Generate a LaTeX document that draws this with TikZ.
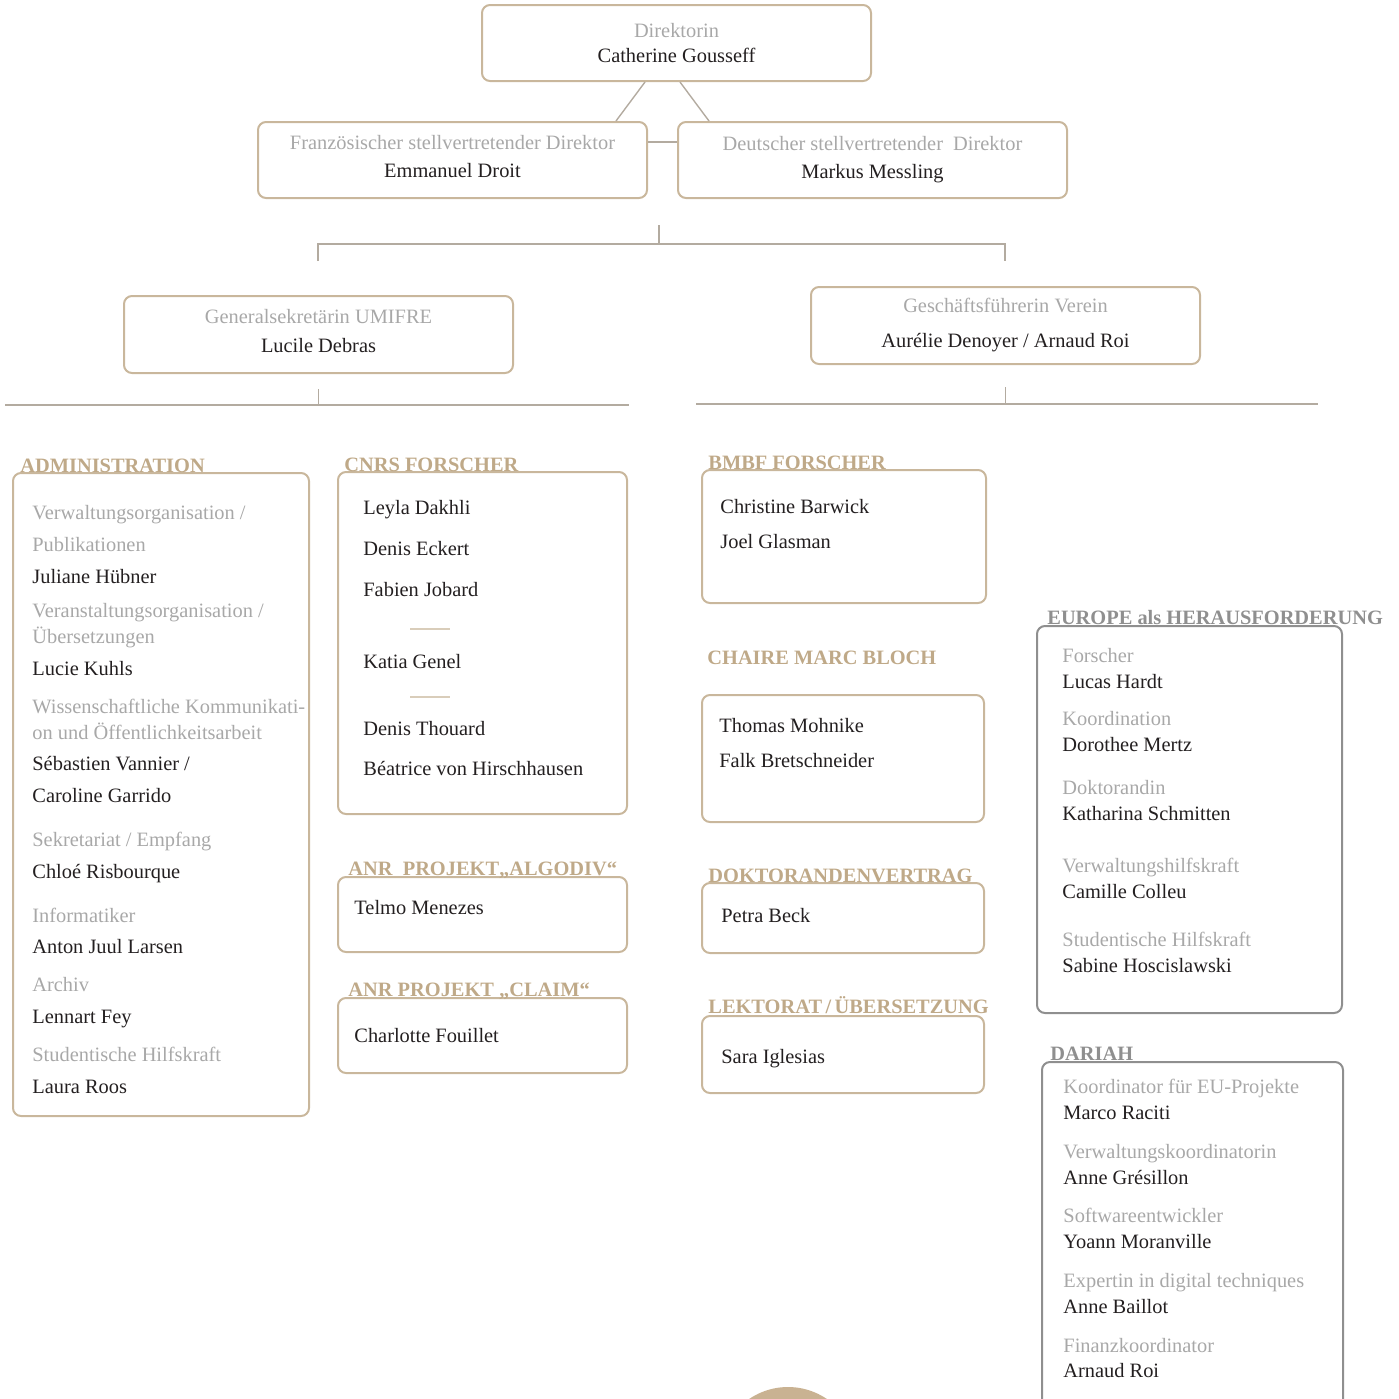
\documentclass[tikz,border=0pt]{standalone}
\usepackage{fontspec}
\setmainfont{Liberation Serif}
\definecolor{sand}{HTML}{C9B79C}
\definecolor{sandtext}{HTML}{BFA988}
\definecolor{rolegrey}{HTML}{A8A8A8}
\definecolor{ink}{HTML}{231F20}
\definecolor{boxgrey}{HTML}{8F8F8F}
\definecolor{linkgrey}{HTML}{B3ABA0}
\definecolor{disc}{HTML}{C9B292}

\tikzset{
  unit/.style={draw=sand, line width=1pt, rounded corners=4pt,
    minimum width=194.5pt, minimum height=38pt, align=center,
    font=\fontsize{10.2}{12.5}\selectfont, text=ink},
  panel/.style={draw=sand, line width=1pt, rounded corners=4pt,
    anchor=north west, inner sep=0pt},
  greypanel/.style={panel, draw=boxgrey},
  title/.style={anchor=base west, inner sep=0pt,
    font=\fontsize{10.2}{12}\selectfont\bfseries, text=sandtext},
  greytitle/.style={title, text=boxgrey},
  role/.style={anchor=base west, inner sep=0pt,
    font=\fontsize{10.2}{12}\selectfont, text=rolegrey},
  person/.style={role, text=ink},
  link/.style={draw=linkgrey, line width=0.7pt},
  rule/.style={draw=sand!70, line width=0.6pt}
}

\begin{document}
\begin{tikzpicture}[x=0.5pt, y=-0.5pt]
  \useasboundingbox (0,0) rectangle (1399,1399);
  \clip (0,0) rectangle (1399,1399);

  % Leitung
  \node[unit] (dir) at (676.5,43)
    {\textcolor{rolegrey}{Direktorin}\\Catherine Gousseff};
  \node[unit] (frdep) at (452.5,160)
    {\textcolor{rolegrey}{Französischer stellvertretender Direktor}\\[1.5pt]Emmanuel Droit\strut};
  \node[unit] (dedep) at (872.5,160)
    {\textcolor{rolegrey}{Deutscher stellvertretender\ \ Direktor}\\[1.5pt]Markus Messling};
  \node[unit, minimum height=38.5pt] (gensec) at (318.5,334.5)
    {\textcolor{rolegrey}{Generalsekretärin UMIFRE}\\[2pt]Lucile Debras\strut};
  \node[unit, minimum height=38.5pt] (verein) at (1005.5,325.5)
    {\textcolor{rolegrey}{Geschäftsführerin Verein}\\[5pt]Aurélie Denoyer / Arnaud Roi};

  % Verbindungen
  \draw[link] ([xshift=-15.75pt]dir.south) -- ([xshift=81.75pt]frdep.north);
  \draw[link] ([xshift=1.75pt]dir.south) -- ([xshift=-81.75pt]dedep.north);
  \draw[link] ([yshift=9pt]frdep.east) -- ([yshift=9pt]dedep.west);

  \coordinate (busstem) at (659,225);
  \coordinate (bus) at (659,244);
  \coordinate (busL) at (318,261);
  \coordinate (busR) at (1005,261);
  \draw[link] (busstem) -- (bus);
  \draw[link] (busL) |- (bus) -| (busR);

  \coordinate (umifre) at (318.5,405);
  \coordinate (umifreW) at (5,405);
  \coordinate (umifreE) at (629,405);
  \draw[link] ([yshift=-7.5pt]gensec.south) -- (umifre);
  \draw[link] (umifreW) -- (umifreE);

  \coordinate (vereinbar) at (1005.5,404);
  \coordinate (vereinW) at (696,404);
  \coordinate (vereinE) at (1318,404);
  \draw[link] ([yshift=-11pt]verein.south) -- (vereinbar);
  \draw[link] (vereinW) -- (vereinE);

  % Administration
  \node[panel, minimum width=148pt, minimum height=321.5pt] (admin) at (12,472) {};
  \node[title] (admintitle) at (20,472) {ADMINISTRATION};
  \foreach \kind/\y/\txt [count=\i] in {
      role/519/{Verwaltungsorganisation /}, role/551/Publikationen,
      person/583/Juliane Hübner,
      role/617/{Veranstaltungsorganisation /}, role/643/Übersetzungen,
      person/675/Lucie Kuhls,
      role/713/Wissenschaftliche Kommunikati-, role/739/on und Öffentlichkeitsarbeit,
      person/770/{Sébastien Vannier /}, person/802/Caroline Garrido,
      role/846/{Sekretariat / Empfang}, person/878/Chloé Risbourque,
      role/922/Informatiker, person/953/Anton Juul Larsen,
      role/991/Archiv, person/1023/Lennart Fey,
      role/1061/Studentische Hilfskraft, person/1093/Laura Roos}
    \node[\kind] (adm\i) at (32,\y) {\txt};

  % CNRS
  \node[panel, minimum width=144.5pt, minimum height=171pt] (cnrs) at (337,471) {};
  \node[title] (cnrstitle) at (344,471) {CNRS FORSCHER};
  \foreach \y/\txt [count=\i] in {514/Leyla Dakhli, 555/Denis Eckert,
      596/Fabien Jobard, 668/Katia Genel, 735/Denis Thouard,
      775/Béatrice von Hirschhausen}
    \node[person] (cnrs\i) at (363,\y) {\txt};
  \draw[rule] (410,629) -- (450,629);
  \draw[rule] (410,697) -- (450,697);

  % ANR
  \node[panel, minimum width=144.5pt, minimum height=37.5pt] (algodiv) at (337,876) {};
  \node[title] (algodivtitle) at (348,875) {ANR\enspace PROJEKT„ALGODIV“};
  \node[person] (algodiv1) at (354,914) {Telmo Menezes};
  \node[panel, minimum width=144.5pt, minimum height=37.5pt] (claim) at (337,997) {};
  \node[title] (claimtitle) at (348,996) {ANR PROJEKT „CLAIM“};
  \node[person] (claim1) at (354,1042) {Charlotte Fouillet};

  % BMBF
  \node[panel, minimum width=142pt, minimum height=66.5pt] (bmbf) at (701,469) {};
  \node[title] (bmbftitle) at (708,469) {BMBF FORSCHER};
  \node[person] (bmbf1) at (720,513) {Christine Barwick};
  \node[person] (bmbf2) at (720,548) {Joel Glasman};

  % Chaire
  \node[title] (chairetitle) at (707,664) {CHAIRE MARC BLOCH};
  \node[panel, minimum width=141pt, minimum height=63.5pt] (chaire) at (701,694) {};
  \node[person] (chaire1) at (719,732) {Thomas Mohnike};
  \node[person] (chaire2) at (719,767) {Falk Bretschneider};

  % Doktoranden, Lektorat
  \node[panel, minimum width=141pt, minimum height=35pt] (dokt) at (701,882) {};
  \node[title] (dokttitle) at (708,882) {DOKTORANDENVERTRAG};
  \node[person] (dokt1) at (721,922) {Petra Beck};
  \node[panel, minimum width=141pt, minimum height=38.5pt] (lekt) at (701,1015) {};
  \node[title] (lekttitle) at (708,1013) {LEKTORAT\,/\,ÜBERSETZUNG};
  \node[person] (lekt1) at (721,1063) {Sara Iglesias};

  % Europe als Herausforderung
  \node[greypanel, minimum width=152.5pt, minimum height=193.5pt] (europe) at (1036,625) {};
  \node[greytitle] (europetitle) at (1047,624) {EUROPE als HERAUSFORDERUNG};
  \foreach \kind/\y/\txt [count=\i] in {
      role/662/Forscher, person/688/Lucas Hardt,
      role/725/Koordination, person/751/Dorothee Mertz,
      role/794/Doktorandin, person/820/Katharina Schmitten,
      role/872/Verwaltungshilfskraft, person/898/Camille Colleu,
      role/946/Studentische Hilfskraft, person/972/Sabine Hoscislawski}
    \node[\kind] (eur\i) at (1062,\y) {\txt};

  % DARIAH
  \node[greypanel, minimum width=150.5pt, minimum height=180pt] (dariah) at (1041,1061) {};
  \node[greytitle] (dariahtitle) at (1050,1060) {DARIAH};
  \foreach \kind/\y/\txt [count=\i] in {
      role/1093/Koordinator für EU-Projekte, person/1119/Marco Raciti,
      role/1158/Verwaltungskoordinatorin, person/1184/Anne Grésillon,
      role/1222/Softwareentwickler, person/1248/Yoann Moranville,
      role/1287/Expertin in digital techniques, person/1313/Anne Baillot,
      role/1352/Finanzkoordinator, person/1377/Arnaud Roi}
    \node[\kind] (dar\i) at (1063,\y) {\txt};

  \fill[disc] (788,1456) circle[radius=34.5pt];
\end{tikzpicture}
\end{document}
